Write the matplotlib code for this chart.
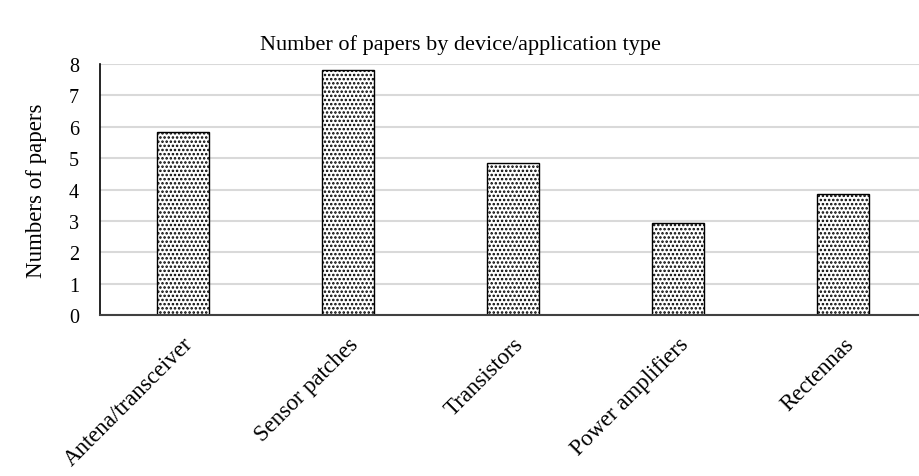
import matplotlib
matplotlib.use("Agg")
import matplotlib.pyplot as plt

categories = ["Antena/transceiver", "Sensor patches", "Transistors",
              "Power amplifiers", "Rectennas"]
papers = [5.83, 7.8, 4.86, 2.93, 3.87]
yticks = [0, 1, 2, 3, 4, 5, 6, 7, 8]

plt.rcParams['font.family'] = ['Liberation Serif']
plt.rcParams['hatch.linewidth'] = 1.2

fig = plt.figure(figsize=(9.19, 4.77), dpi=100)
ax = fig.add_axes([100 / 919, 161 / 477, 826 / 919, 251 / 477])

x = range(len(categories))
ax.bar(x, papers, width=0.315, color='white', edgecolor='black',
       hatch='....', linewidth=1.0, zorder=3)

ax.set_xlim(-0.5, len(categories) - 0.5)
ax.set_ylim(0, 8)
ax.set_yticks(yticks)
ax.set_yticklabels([str(t) for t in yticks], fontsize=14.5)
ax.set_xticks(list(x))
ax.set_xticklabels(categories, rotation=45, ha='right', va='top',
                   rotation_mode='anchor', fontsize=16.5)
ax.tick_params(axis='both', length=0)
ax.tick_params(axis='y', pad=15)
ax.tick_params(axis='x', pad=13)

ax.grid(axis='y', color='#d9d9d9', linewidth=1.5, zorder=0)
ax.set_axisbelow(True)
for side in ('top', 'right'):
    ax.spines[side].set_visible(False)
ax.spines['left'].set_color('black')
ax.spines['left'].set_linewidth(1.2)
ax.spines['bottom'].set_color('#404040')
ax.spines['bottom'].set_linewidth(1.5)
ax.spines['left'].set_zorder(4)
ax.spines['bottom'].set_zorder(4)

ax.set_ylabel("Numbers of papers", fontsize=16.5, labelpad=16)
fig.text(460 / 919, 1 - 45 / 477, "Number of papers by device/application type",
         ha='center', va='center', fontsize=16)

fig.savefig("out.png", dpi=100)
